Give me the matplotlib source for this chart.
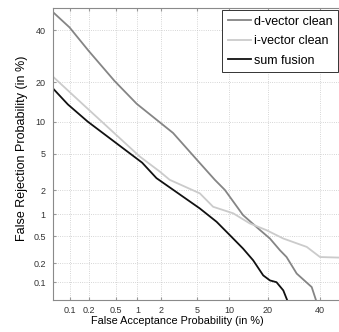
"""
DET curves for d-vector / i-vector systems and their sum fusion
"""

from statistics import NormalDist
import numpy as np
import matplotlib
matplotlib.use('Agg')
import matplotlib.pyplot as plt
from matplotlib.ticker import NullLocator

plt.rcParams['font.family'] = ['Liberation Sans', 'DejaVu Sans']

# curves (false acceptance %, false rejection %)
dvec_fa = [0.049, 0.097, 0.198, 0.486, 0.977, 2.73, 5.29, 7.40, 9.13, 13.0, 17.0, 20.6, 24.0, 26.4, 30.3, 36.5, 38.7]
dvec_fr = [48.3, 41.2, 31.3, 20.4, 13.95, 7.92, 4.01, 2.63, 2.01, 0.978, 0.647, 0.468, 0.316, 0.250, 0.138, 0.083, 0.045]

ivec_fa = [0.049, 0.161, 1.07, 1.91, 2.50, 5.29, 7.13, 10.8, 14.7, 19.5, 25.2, 34.4, 40.1, 49.1]
ivec_fr = [22.1, 13.8, 4.69, 3.25, 2.63, 1.83, 1.25, 1.03, 0.758, 0.613, 0.468, 0.354, 0.250, 0.245]

fusion_fa = [0.049, 0.091, 0.191, 1.15, 1.74, 5.29, 7.68, 10.1, 13.0, 15.6, 18.5, 20.6, 22.8, 25.2, 27.0]
fusion_fr = [18.4, 13.8, 9.98, 4.05, 2.75, 1.19, 0.797, 0.522, 0.335, 0.223, 0.129, 0.107, 0.100, 0.073, 0.045]

tick_vals = [0.1, 0.2, 0.5, 1, 2, 5, 10, 20, 40]
tick_labels = ['0.1', '0.2', '0.5', '1', '2', '5', '10', '20', '40']

_nd = NormalDist()
_ppf = np.vectorize(_nd.inv_cdf, otypes=[float])
_cdf = np.vectorize(_nd.cdf, otypes=[float])


def probit(p):
    p = np.clip(np.asarray(p, dtype=float) / 100.0, 1e-9, 1 - 1e-9)
    return _ppf(p)


def inv_probit(z):
    return _cdf(np.asarray(z, dtype=float)) * 100.0


fig = plt.figure(figsize=(3.39, 3.32), dpi=100)
ax = fig.add_axes([0.1555, 0.0964, 0.8535, 0.8806])

ax.set_xscale('function', functions=(probit, inv_probit))
ax.set_yscale('function', functions=(probit, inv_probit))

ax.plot(dvec_fa, dvec_fr, color='#858585', linewidth=1.3, label='d-vector clean')
ax.plot(ivec_fa, ivec_fr, color='#cbcbcb', linewidth=1.3, label='i-vector clean')
ax.plot(fusion_fa, fusion_fr, color='#111111', linewidth=1.3, label='sum fusion')

ax.set_xlim(0.05, 50)
ax.set_ylim(0.05, 50)

ax.set_xticks(tick_vals)
ax.set_xticklabels(tick_labels)
ax.set_yticks(tick_vals)
ax.set_yticklabels(tick_labels)
ax.xaxis.set_minor_locator(NullLocator())
ax.yaxis.set_minor_locator(NullLocator())
ax.tick_params(labelsize=6.5, direction='in', length=2, color='#999999',
               labelcolor='#333333', top=True, right=True)
ax.tick_params(axis='x', pad=4)
ax.tick_params(axis='y', pad=5)

ax.grid(True, linestyle=':', linewidth=0.6, color='#c8c8c8')
for side in ax.spines:
    ax.spines[side].set_color('#8a8a8a')
    ax.spines[side].set_linewidth(0.8)

ax.set_xlabel('False Acceptance Probability (in %)', fontsize=7.8)
ax.xaxis.set_label_coords(0.43, -0.055)
ax.set_ylabel('False Rejection Probability (in %)', fontsize=9)
ax.yaxis.set_label_coords(-0.085, 0.52)

leg = ax.legend(loc='upper right', bbox_to_anchor=(338 / 339, 322 / 332),
                bbox_transform=fig.transFigure, borderaxespad=0, fontsize=9,
                fancybox=False, framealpha=1, edgecolor='#333333',
                handlelength=1.9, handletextpad=0.2, labelspacing=0.6,
                borderpad=0.45)
leg.get_frame().set_linewidth(0.7)

plt.savefig('out.png', dpi=100)
